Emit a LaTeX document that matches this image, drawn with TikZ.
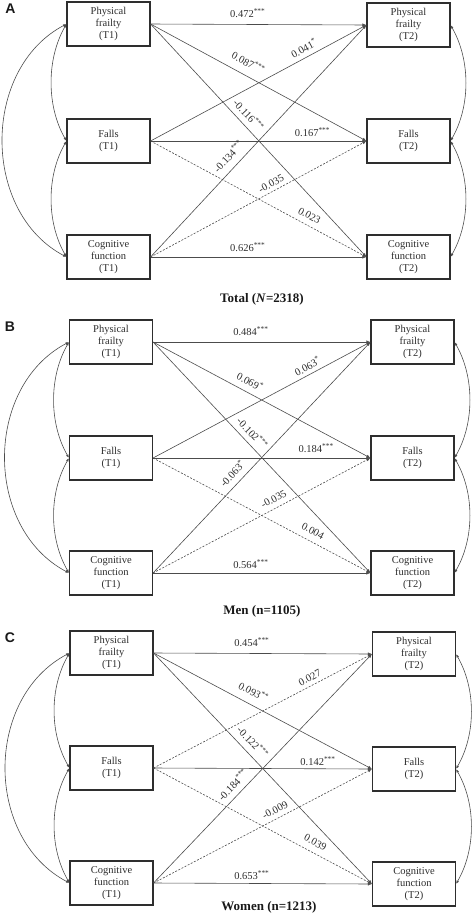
\documentclass[tikz,border=0pt]{standalone}
\usepackage{fontspec}
\setmainfont{Liberation Serif}
\newfontfamily\panelfont{Liberation Sans}
\usetikzlibrary{arrows.meta}
\newcommand\covarcs[1]{%
  \draw[cov] (#1pf1.west) .. controls +(-20,-35) and +(-20,35) .. (#1fa1.west);
  \draw[cov] (#1fa1.west) .. controls +(-20,-35) and +(-20,35) .. (#1cf1.west);
  \draw[cov] (#1pf1.west) .. controls +(-85,-45) and +(-85,45) .. (#1cf1.west);
  \draw[cov] (#1pf2.east) .. controls +(20,-35) and +(20,35) .. (#1fa2.east);
  \draw[cov] (#1fa2.east) .. controls +(20,-35) and +(20,35) .. (#1cf2.east);
}
\newcommand\sixboxes[8]{% prefix, xL, xR, y1, y2, y3
  \node[box] (#1pf1) at (#2,-#4) {Physical\\frailty\\(T1)};
  \node[box] (#1fa1) at (#2,-#5) {Falls\\(T1)};
  \node[box] (#1cf1) at (#2,-#6) {Cognitive\\function\\(T1)};
  \node[box] (#1pf2) at (#3,-#7) {Physical\\frailty\\(T2)};
  \node[box] (#1fa2) at (#3,-#8) {Falls\\(T2)};
}
\begin{document}
\begin{tikzpicture}[x=1pt,y=1pt,
  box/.style={draw=black!82, line width=1.1pt, minimum width=83pt, minimum height=44pt,
    inner sep=1pt, align=center, text=black!82, font=\fontsize{10.5}{12}\selectfont},
  lab/.style={inner sep=0.5pt, text=black!82, font=\fontsize{10.5}{12}\selectfont},
  ttl/.style={inner sep=1pt, text=black!90, font=\fontsize{13}{15}\selectfont\bfseries},
  letter/.style={inner sep=0pt, text=black!90, font=\panelfont\fontsize{14}{16}\selectfont\bfseries},
  path/.style={draw=black!70, line width=0.6pt, -{Latex[length=4pt,width=3.2pt]}},
  dsh/.style={dash pattern=on 2pt off 1.5pt},
  cov/.style={draw=black!70, line width=0.6pt, {Latex[length=3.5pt,width=2.6pt]}-{Latex[length=3.5pt,width=2.6pt]}}]
\useasboundingbox (0,0) rectangle (474,-914);

% ---------------- Panel A ----------------
\node[letter] (al) at (10.5,-8.5) {A};
\sixboxes{a}{108.5}{408.5}{24}{141}{257}{25}{141}
\node[box] (acf2) at (408.5,-257) {Cognitive\\function\\(T2)};
\node[ttl] (at) at (262,-299) {Total (\textit{N}=2318)};
\draw[path] (apf1.east) -- node[lab,pos=.45,above=6.5pt]{0.472\textsuperscript{***}} (apf2.west);
\draw[path] (apf1.east) -- node[lab,sloped,pos=.425,above=7.5pt]{0.087\textsuperscript{***}} (afa2.west);
\draw[path] (apf1.east) -- node[lab,sloped,pos=.42,above=5pt]{-0.116\textsuperscript{***}} (acf2.west);
\draw[path] (afa1.east) -- node[lab,sloped,pos=.73,above=4pt]{0.041\textsuperscript{*}} (apf2.west);
\draw[path] (afa1.east) -- node[lab,pos=.75,above=3.5pt]{0.167\textsuperscript{***}} (afa2.west);
\draw[path,dsh] (afa1.east) -- node[lab,sloped,pos=.715,above=5pt]{0.023} (acf2.west);
\draw[path] (acf1.east) -- node[lab,sloped,pos=.40,above=6.5pt]{-0.134\textsuperscript{***}} (apf2.west);
\draw[path,dsh] (acf1.east) -- node[lab,sloped,pos=.575,above=3pt]{-0.035} (afa2.west);
\draw[path] (acf1.east) -- node[lab,pos=.45,above=4.5pt]{0.626\textsuperscript{***}} (acf2.west);
\covarcs{a}

% ---------------- Panel B ----------------
\node[letter] (bl) at (10,-327) {B};
\sixboxes{b}{111}{412.5}{342}{458}{573}{342}{458}
\node[box] (bcf2) at (412.5,-573) {Cognitive\\function\\(T2)};
\node[ttl] (bt) at (262,-611) {Men (n=1105)};
\draw[path] (bpf1.east) -- node[lab,pos=.45,above=5.5pt]{0.484\textsuperscript{***}} (bpf2.west);
\draw[path] (bpf1.east) -- node[lab,sloped,pos=.423,above=5.7pt]{0.069\textsuperscript{*}} (bfa2.west);
\draw[path] (bpf1.east) -- node[lab,sloped,pos=.424,above=4.8pt]{-0.102\textsuperscript{***}} (bcf2.west);
\draw[path] (bfa1.east) -- node[lab,sloped,pos=.728,above=3pt]{0.063\textsuperscript{*}} (bpf2.west);
\draw[path] (bfa1.east) -- node[lab,pos=.75,above=4.5pt]{0.184\textsuperscript{***}} (bfa2.west);
\draw[path,dsh] (bfa1.east) -- node[lab,sloped,pos=.713,above=5.9pt]{0.004} (bcf2.west);
\draw[path] (bcf1.east) -- node[lab,sloped,pos=.40,above=5.5pt]{-0.063\textsuperscript{*}} (bpf2.west);
\draw[path,dsh] (bcf1.east) -- node[lab,sloped,pos=.574,above=4.4pt]{-0.035} (bfa2.west);
\draw[path] (bcf1.east) -- node[lab,pos=.45,above=3.5pt]{0.564\textsuperscript{***}} (bcf2.west);
\covarcs{b}

% ---------------- Panel C ----------------
\node[letter] (cl) at (10,-638) {C};
\sixboxes{c}{111.5}{414}{653}{768}{883}{654}{769}
\node[box] (ccf2) at (414,-884) {Cognitive\\function\\(T2)};
\node[ttl] (ct) at (269,-907) {Women (n=1213)};
\draw[path] (cpf1.east) -- node[lab,pos=.45,above=6.5pt]{0.454\textsuperscript{***}} (cpf2.west);
\draw[path] (cpf1.east) -- node[lab,sloped,pos=.431,above=7.5pt]{0.093\textsuperscript{**}} (cfa2.west);
\draw[path] (cpf1.east) -- node[lab,sloped,pos=.418,above=5.8pt]{-0.122\textsuperscript{***}} (ccf2.west);
\draw[path,dsh] (cfa1.east) -- node[lab,sloped,pos=.732,above=3.5pt]{0.027} (cpf2.west);
\draw[path] (cfa1.east) -- node[lab,pos=.753,above=2.5pt]{0.142\textsuperscript{***}} (cfa2.west);
\draw[path,dsh] (cfa1.east) -- node[lab,sloped,pos=.719,above=5.8pt]{0.039} (ccf2.west);
\draw[path] (ccf1.east) -- node[lab,sloped,pos=.397,above=5.1pt]{-0.184\textsuperscript{***}} (cpf2.west);
\draw[path,dsh] (ccf1.east) -- node[lab,sloped,pos=.574,above=3.9pt]{-0.009} (cfa2.west);
\draw[path] (ccf1.east) -- node[lab,pos=.45,above=3.5pt]{0.653\textsuperscript{***}} (ccf2.west);
\covarcs{c}
\end{tikzpicture}
\end{document}
